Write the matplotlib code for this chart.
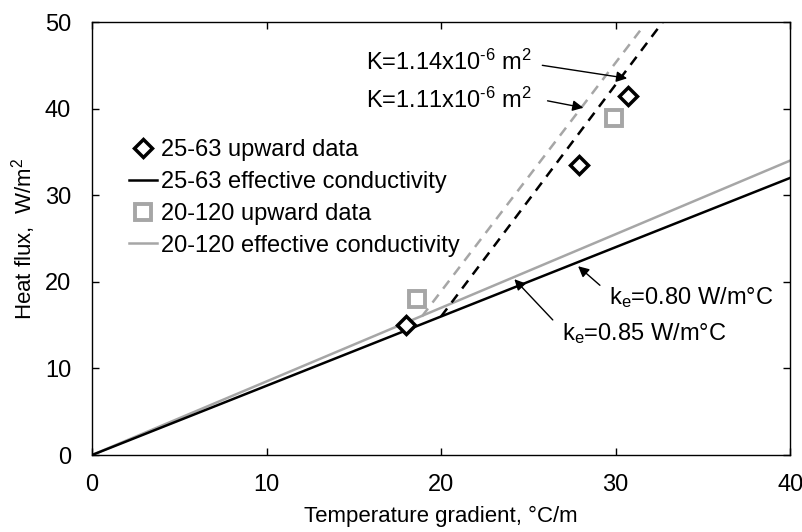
import matplotlib
matplotlib.use("Agg")
import matplotlib.pyplot as plt
import numpy as np

plt.rcParams['font.family'] = ['Liberation Sans', 'DejaVu Sans']
plt.rcParams['mathtext.fontset'] = 'custom'
plt.rcParams['mathtext.rm'] = 'Liberation Sans'
plt.rcParams['mathtext.it'] = 'Liberation Sans'

# measured heat flux vs temperature gradient
grad_25_63 = [18.0, 27.9, 30.7]
flux_25_63 = [15.0, 33.5, 41.4]
grad_20_120 = [18.6, 29.9]
flux_20_120 = [18.0, 38.9]

# effective conductivity (W/m°C)
ke_25_63 = 0.80
ke_20_120 = 0.85
grad_range = [0, 40]

# convective branches (endpoints)
conv_25_63_x = [20.0, 32.7]
conv_25_63_y = [16.0, 50.0]
conv_20_120_x = [18.9, 31.4]
conv_20_120_y = [16.0, 49.0]

gray = '#a6a6a6'
fs = 17

fig = plt.figure(figsize=(8.03, 5.32), dpi=100)
ax = fig.add_axes([0.1146, 0.1447, 0.8694, 0.8139])

ax.plot(grad_25_63, flux_25_63, 'D', ms=9.5, mfc='white', mec='black', mew=2.5,
        label='25-63 upward data', zorder=5)
ax.plot(grad_range, [ke_25_63 * g for g in grad_range], color='black', lw=1.8,
        label='25-63 effective conductivity', zorder=3)
ax.plot(grad_20_120, flux_20_120, 's', ms=11, mfc='white', mec=gray, mew=2.8,
        label='20-120 upward data', zorder=4)
ax.plot(grad_range, [ke_20_120 * g for g in grad_range], color=gray, lw=1.8,
        label='20-120 effective conductivity', zorder=2)

ax.plot(conv_25_63_x, conv_25_63_y, color='black', lw=1.8, ls=(0, (4, 3)), zorder=3)
ax.plot(conv_20_120_x, conv_20_120_y, color=gray, lw=1.8, ls=(0, (4, 3)), zorder=2)

ax.set_xlim(0, 40)
ax.set_ylim(0, 50)
ax.set_xticks(np.arange(0, 41, 10))
ax.set_yticks(np.arange(0, 51, 10))
ax.tick_params(direction='in', length=5, width=1, labelsize=fs,
               top=True, right=True)
ax.tick_params(axis='x', pad=14)
ax.tick_params(axis='y', pad=15)
for s in ax.spines.values():
    s.set_linewidth(1.0)

ax.set_xlabel('Temperature gradient, °C/m', fontsize=16, labelpad=7)
ax.set_ylabel('Heat flux,  W/m$^{\\mathregular{2}}$', fontsize=16, labelpad=5)

ax.legend(loc='upper left', bbox_to_anchor=(0.053, 0.73), frameon=False,
          fontsize=fs, handlelength=1.2, handletextpad=0.15,
          labelspacing=0.42, borderaxespad=0, borderpad=0)

arrow = dict(arrowstyle='-|>', color='black', lw=1.0, mutation_scale=16,
             shrinkA=0, shrinkB=0)

# permeability labels
ax.text(25.2, 45.3, 'K=1.14x10$^{\\mathregular{\u20106}}$ m$^{\\mathregular{2}}$',
        fontsize=fs, ha='right', va='center')
ax.annotate('', xy=(30.66, 43.5), xytext=(25.8, 45.0), arrowprops=arrow)
ax.text(25.2, 41.0, 'K=1.11x10$^{\\mathregular{\u20106}}$ m$^{\\mathregular{2}}$',
        fontsize=fs, ha='right', va='center')
ax.annotate('', xy=(28.15, 40.1), xytext=(26.1, 40.9), arrowprops=arrow)

# conductivity labels
ax.text(29.6, 18.2, 'k$_{\\mathregular{e}}$=0.80 W/m°C', fontsize=fs,
        ha='left', va='center')
ax.annotate('', xy=(27.85, 21.8), xytext=(29.1, 19.6), arrowprops=arrow)
ax.text(26.9, 14.0, 'k$_{\\mathregular{e}}$=0.85 W/m°C', fontsize=fs,
        ha='left', va='center')
ax.annotate('', xy=(24.2, 20.3), xytext=(26.4, 15.6), arrowprops=arrow)

fig.savefig('out.png', dpi=100)
